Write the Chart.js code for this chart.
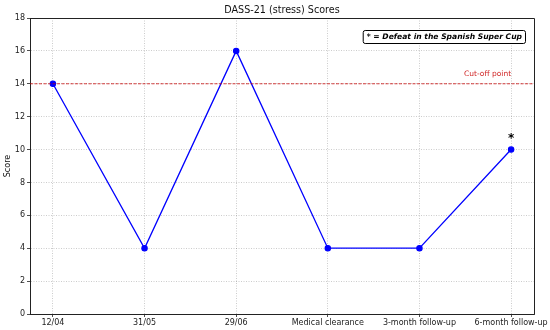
<!DOCTYPE html>
<html><head><meta charset="utf-8">
<script src="https://cdn.jsdelivr.net/npm/chart.js@4/dist/chart.umd.min.js"></script>
<style>html,body{margin:0;padding:0;background:#fff}#wrap{width:550px;height:330px}</style>
</head><body><div id="wrap"><canvas id="c" width="550" height="330"></canvas></div>
<script>
const categories = ['12/04','31/05','29/06','Medical clearance','3-month follow-up','6-month follow-up'];
const scores = [14, 4, 16, 4, 4, 10];
const markers = ['', '', '', '', '', '*'];
const yTicks = [0, 2, 4, 6, 8, 10, 12, 14, 16, 18];
const cutoff = 14;
const cutoffLabel = 'Cut-off point';
const titleText = 'DASS-21 (stress) Scores';
const yLabel = 'Score';
const noteText = '* = Defeat in the Spanish Super Cup';

const FONT = '"DejaVu Sans", sans-serif';

const extras = {
  id: 'extras',
  afterDraw(chart) {
    const {ctx, chartArea: a, scales: {x, y}} = chart;
    ctx.save();
    // cut-off line
    const cy = y.getPixelForValue(cutoff);
    ctx.strokeStyle = 'rgba(200,0,0,0.75)';
    ctx.lineWidth = 1;
    ctx.setLineDash([3, 1.5]);
    ctx.beginPath(); ctx.moveTo(a.left, cy); ctx.lineTo(a.right, cy); ctx.stroke();
    ctx.setLineDash([]);
    // cut-off label
    ctx.fillStyle = '#d02525';
    ctx.font = '7.5px ' + FONT;
    ctx.textAlign = 'right'; ctx.textBaseline = 'middle';
    ctx.fillText(cutoffLabel, x.getPixelForValue(categories.length - 1), cy - 10);
    // markers
    ctx.fillStyle = '#000';
    ctx.font = 'bold 12px ' + FONT;
    ctx.textAlign = 'center'; ctx.textBaseline = 'middle';
    markers.forEach((m, i) => { if (m) ctx.fillText(m, x.getPixelForValue(i), y.getPixelForValue(scores[i]) - 11); });
    // top/right spines
    ctx.strokeStyle = '#222'; ctx.lineWidth = 1;
    ctx.beginPath();
    ctx.moveTo(a.left, a.top + 0.5); ctx.lineTo(a.right + 0.5, a.top + 0.5); ctx.lineTo(a.right + 0.5, a.bottom);
    ctx.stroke();
    // title
    ctx.fillStyle = '#111';
    ctx.font = '9.6px ' + FONT;
    ctx.textAlign = 'center'; ctx.textBaseline = 'middle';
    ctx.fillText(titleText, (a.left + a.right) / 2, 10);
    // y label
    ctx.save();
    ctx.translate(8, (a.top + a.bottom) / 2);
    ctx.rotate(-Math.PI / 2);
    ctx.font = '8px ' + FONT;
    ctx.fillText(yLabel, 0, 0);
    ctx.restore();
    // note box
    ctx.font = 'italic bold 7.6px ' + FONT;
    const tw = ctx.measureText(noteText).width;
    const bx2 = a.right - 9, by1 = a.top + 12, bh = 13;
    const bx1 = bx2 - tw - 7;
    ctx.beginPath();
    ctx.roundRect(bx1 + 0.5, by1 + 0.5, bx2 - bx1, bh, 2);
    ctx.fillStyle = '#fff'; ctx.fill();
    ctx.strokeStyle = '#000'; ctx.lineWidth = 1; ctx.stroke();
    ctx.fillStyle = '#000';
    ctx.textAlign = 'left';
    ctx.fillText(noteText, bx1 + 4, by1 + bh / 2 + 1);
    ctx.restore();
  }
};

new Chart(document.getElementById('c'), {
  type: 'line',
  data: {
    datasets: [{
      data: scores.map((v, i) => ({x: i, y: v})),
      borderColor: '#0000ff',
      backgroundColor: '#0000ff',
      borderWidth: 1.3,
      pointRadius: 2.6,
      pointHoverRadius: 2.6,
      tension: 0
    }]
  },
  options: {
    responsive: false,
    animation: false,
    events: [],
    layout: {padding: {left: 0, right: 16, top: 18, bottom: 0}},
    plugins: {legend: {display: false}, tooltip: {enabled: false}},
    scales: {
      x: {
        type: 'linear',
        min: -0.25, max: categories.length - 0.75,
        afterBuildTicks: ax => { ax.ticks = categories.map((c, i) => ({value: i})); },
        afterFit: ax => { ax.height = 16; },
        ticks: {
          callback: v => categories[v],
          color: '#222', font: {family: FONT, size: 8}, padding: 1, maxRotation: 0, autoSkip: false
        },
        grid: {color: 'rgba(0,0,0,0.25)', lineWidth: 0.8, tickLength: 3, tickColor: '#222', tickWidth: 0.8},
        border: {color: '#222', width: 1, dash: [1, 1.5]}
      },
      y: {
        min: 0, max: 18,
        afterBuildTicks: ax => { ax.ticks = yTicks.map(v => ({value: v})); },
        afterFit: ax => { ax.width = 30; },
        ticks: {color: '#222', font: {family: FONT, size: 8}, padding: 2},
        grid: {color: 'rgba(0,0,0,0.25)', lineWidth: 0.8, tickLength: 3, tickColor: '#222', tickWidth: 0.8},
        border: {color: '#222', width: 1, dash: [1, 1.5]}
      }
    }
  },
  plugins: [extras]
});
</script>
</body></html>
